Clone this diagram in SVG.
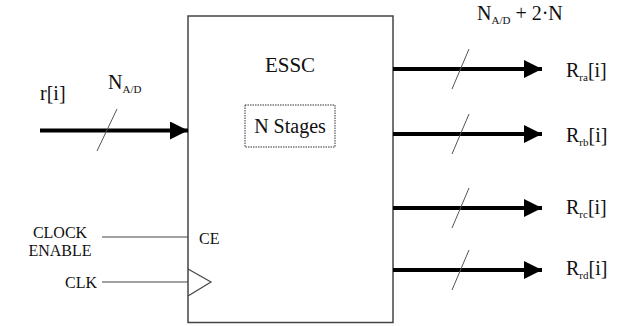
<svg xmlns="http://www.w3.org/2000/svg" width="621" height="326" viewBox="0 0 621 326">
  <style>
    text { font-family: "Liberation Serif", "DejaVu Serif", "Times New Roman", serif; fill: #111; }
    .big { font-size: 21px; }
    .mid { font-size: 20px; }
    .sm { font-size: 16px; }
    .sub { font-size: 11px; }
    .bus { stroke: #000; stroke-width: 4; fill: none; }
    .thin { stroke: #444; stroke-width: 1.2; fill: none; }
    .slash { stroke: #555; stroke-width: 1; fill: none; }
  </style>
  <defs>
    <marker id="head" markerUnits="userSpaceOnUse" markerWidth="18" markerHeight="18" refX="18" refY="9" orient="auto">
      <path d="M0,0 L18,9 L0,18 Z" fill="#000"/>
    </marker>
  </defs>
  <rect width="621" height="326" fill="#fff"/>

  <!-- main block -->
  <g id="essc">
    <rect x="188" y="16" width="205" height="306.5" fill="none" stroke="#444" stroke-width="1.5"/>
    <text class="big" x="290" y="72" text-anchor="middle" font-family="Liberation Serif">ESSC</text>
    <path d="M188,269 L211,282 L188,296" class="thin"/>
    <text class="sm" x="199" y="244">CE</text>
  </g>

  <g id="stages">
    <rect x="245" y="105" width="90" height="42" fill="none" stroke="#333" stroke-width="1" stroke-dasharray="1.5,1"/>
    <text class="mid" x="290" y="133" text-anchor="middle">N Stages</text>
  </g>

  <!-- input and output labels -->
  <g id="input">
    <text class="mid" x="40" y="100">r[i]</text>
    <text class="mid" x="108" y="89">N<tspan class="sub" dy="4">A/D</tspan></text>
  </g>
  <g id="clock-enable">
    <text class="sm" x="60" y="238" text-anchor="middle">CLOCK</text>
    <text class="sm" x="60" y="256" text-anchor="middle">ENABLE</text>
  </g>
  <g id="clk">
    <text class="sm" x="97" y="288" text-anchor="end">CLK</text>
  </g>
  <g id="outputs">
    <text class="mid" x="477" y="20">N<tspan class="sub" dy="4">A/D</tspan><tspan dy="-4"> + 2·N</tspan></text>
    <text class="mid" x="566" y="77">R<tspan class="sub" dy="4">ra</tspan><tspan dy="-4">[i]</tspan></text>
    <text class="mid" x="566" y="142">R<tspan class="sub" dy="4">rb</tspan><tspan dy="-4">[i]</tspan></text>
    <text class="mid" x="566" y="214">R<tspan class="sub" dy="4">rc</tspan><tspan dy="-4">[i]</tspan></text>
    <text class="mid" x="566" y="275">R<tspan class="sub" dy="4">rd</tspan><tspan dy="-4">[i]</tspan></text>
  </g>

  <!-- connectors -->
  <g id="connectors">
    <line class="bus" x1="40" y1="130.5" x2="188" y2="130.5" marker-end="url(#head)"/>
    <line class="slash" x1="97" y1="151" x2="117" y2="109"/>

    <line class="bus" x1="393" y1="69" x2="542" y2="69" marker-end="url(#head)"/>
    <line class="slash" x1="452" y1="89" x2="469" y2="49"/>
    <line class="bus" x1="393" y1="134" x2="542" y2="134" marker-end="url(#head)"/>
    <line class="slash" x1="452" y1="154" x2="469" y2="114"/>
    <line class="bus" x1="393" y1="208" x2="542" y2="208" marker-end="url(#head)"/>
    <line class="slash" x1="452" y1="228" x2="469" y2="188"/>
    <line class="bus" x1="393" y1="270" x2="542" y2="270" marker-end="url(#head)"/>
    <line class="slash" x1="452" y1="290" x2="469" y2="250"/>

    <line class="thin" x1="102" y1="237" x2="188" y2="237"/>
    <line class="thin" x1="102" y1="282" x2="188" y2="282"/>
  </g>
</svg>
